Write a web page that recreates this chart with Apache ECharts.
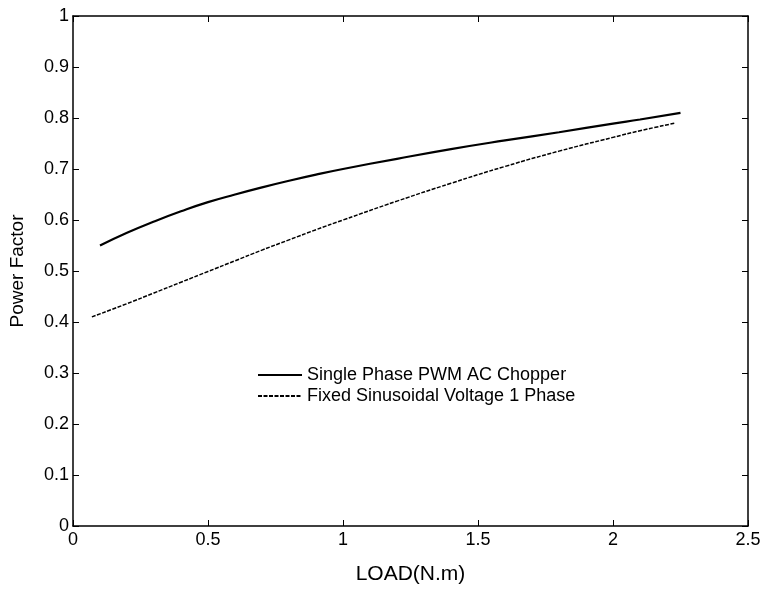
<!DOCTYPE html>
<html><head><meta charset="utf-8">
<script src="https://cdn.jsdelivr.net/npm/echarts@6/dist/echarts.min.js"></script>
<style>html,body{margin:0;padding:0;background:#fff}#c{width:766px;height:590px}</style>
</head><body><div id="c"></div>
<script>
const xTicks = [0, 0.5, 1, 1.5, 2, 2.5];
const yTicks = [0, 0.1, 0.2, 0.3, 0.4, 0.5, 0.6, 0.7, 0.8, 0.9, 1];
const chopperX = [0.1, 0.2, 0.3, 0.4, 0.5, 0.6, 0.7, 0.8, 0.9, 1.0, 1.2, 1.4, 1.6, 1.8, 2.0, 2.1, 2.25];
const chopperY = [0.55, 0.575, 0.597, 0.617, 0.635, 0.650, 0.664, 0.677, 0.689, 0.700, 0.720, 0.739, 0.756, 0.772, 0.789, 0.797, 0.81];
const fixedX = [0.07, 0.2, 0.3, 0.4, 0.5, 0.6, 0.7, 0.8, 0.9, 1.0, 1.2, 1.4, 1.6, 1.8, 2.0, 2.1, 2.23];
const fixedY = [0.41, 0.436, 0.457, 0.478, 0.499, 0.520, 0.541, 0.561, 0.581, 0.600, 0.637, 0.672, 0.705, 0.735, 0.762, 0.775, 0.79];
const seriesNames = ['Single Phase PWM AC Chopper', 'Fixed Sinusoidal Voltage 1 Phase'];

const zip = (xs, ys) => xs.map((x, i) => [x, ys[i]]);
const font = 'Liberation Sans, Arial, sans-serif';
const axisCommon = {
  axisLine: {show: true, onZero: false, lineStyle: {color: '#000', width: 1.5}},
  axisTick: {show: true, inside: true, length: 6, lineStyle: {color: '#000', width: 1}},
  splitLine: {show: false}
};
const chart = echarts.init(document.getElementById('c'));
chart.setOption({
  animation: false,
  backgroundColor: '#fff',
  grid: {left: 69, right: 18, top: 16, bottom: 52, containLabel: false},
  legend: {
    orient: 'vertical', left: 252, top: 361, itemWidth: 44, itemHeight: 12, itemGap: 3,
    data: seriesNames,
    itemStyle: {opacity: 0},
    textStyle: {fontFamily: font, fontSize: 18, color: '#000'}
  },
  xAxis: [
    Object.assign({type: 'value', position: 'bottom', min: xTicks[0], max: xTicks[xTicks.length - 1], interval: 0.5,
      name: 'LOAD(N.m)', nameLocation: 'middle', nameGap: 38,
      nameTextStyle: {fontFamily: font, fontSize: 21, color: '#000'},
      axisLabel: {fontFamily: font, fontSize: 18, color: '#000', margin: 5}}, axisCommon),
    Object.assign({type: 'value', position: 'top', min: xTicks[0], max: xTicks[xTicks.length - 1], interval: 0.5,
      axisLabel: {show: false}}, axisCommon)
  ],
  yAxis: [
    Object.assign({type: 'value', position: 'left', min: yTicks[0], max: yTicks[yTicks.length - 1], interval: 0.1,
      name: 'Power Factor', nameLocation: 'middle', nameGap: 46,
      nameTextStyle: {fontFamily: font, fontSize: 19, color: '#000'},
      axisLabel: {fontFamily: font, fontSize: 18, color: '#000', margin: 4,
        formatter: v => String(Math.round(v * 10) / 10)}}, axisCommon),
    Object.assign({type: 'value', position: 'right', min: yTicks[0], max: yTicks[yTicks.length - 1], interval: 0.1,
      axisLabel: {show: false}}, axisCommon)
  ],
  series: [
    {name: seriesNames[0], type: 'line', smooth: true, symbol: 'none', data: zip(chopperX, chopperY),
      lineStyle: {color: '#000', width: 2.2, type: 'solid'}, itemStyle: {color: '#000'}},
    {name: seriesNames[1], type: 'line', smooth: true, symbol: 'none', data: zip(fixedX, fixedY),
      lineStyle: {color: '#000', width: 1.5, type: [4, 1.5]}, itemStyle: {color: '#000'}}
  ]
});
</script></body></html>
